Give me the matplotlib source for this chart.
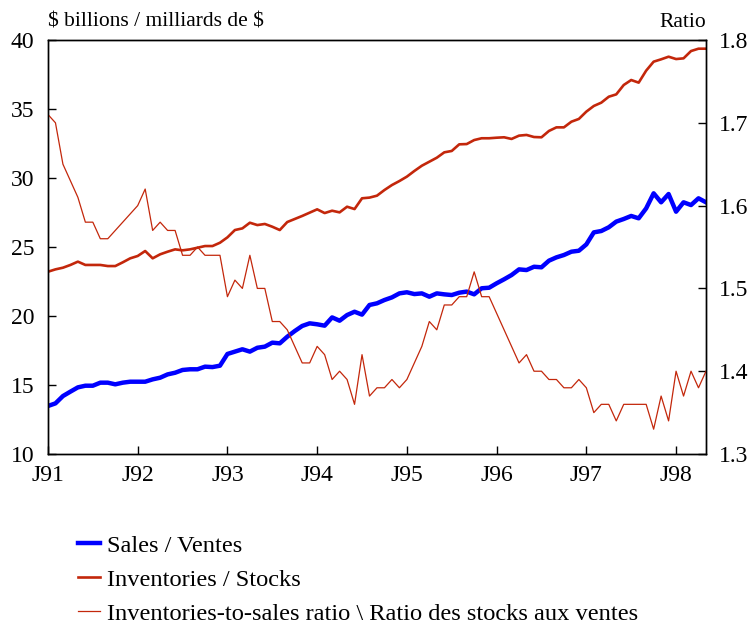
# Sales, inventories and inventories-to-sales ratio, monthly Jan 1991 - May 1998

import matplotlib
matplotlib.use("Agg")
import matplotlib.pyplot as plt
import numpy as np

# Monthly data, Jan 1991 onwards
sales = [13.48, 13.67, 14.20, 14.52, 14.83, 14.95, 14.95, 15.17, 15.17, 15.05, 15.17, 15.24,
         15.24, 15.24, 15.41, 15.53, 15.77, 15.89, 16.09, 16.14, 16.14, 16.33, 16.30, 16.40,
         17.25, 17.42, 17.59, 17.42, 17.70, 17.78, 18.07, 18.02, 18.50, 18.91, 19.28, 19.47,
         19.40, 19.30, 19.90, 19.66, 20.07, 20.31, 20.10, 20.80, 20.92, 21.16, 21.35, 21.64,
         21.72, 21.59, 21.64, 21.40, 21.64, 21.57, 21.52, 21.69, 21.77, 21.57, 22.01, 22.05,
         22.37, 22.66, 22.97, 23.38, 23.33, 23.57, 23.53, 24.01, 24.25, 24.42, 24.66, 24.73,
         25.19, 26.06, 26.16, 26.43, 26.84, 27.03, 27.25, 27.08, 27.80, 28.89, 28.24, 28.84,
         27.56, 28.24, 28.04, 28.53, 28.24]

inventories = [23.21, 23.38, 23.50, 23.70, 23.94, 23.70, 23.70, 23.70, 23.62, 23.62, 23.89, 24.18,
               24.35, 24.71, 24.18, 24.47, 24.66, 24.83, 24.76, 24.83, 24.95, 25.07, 25.07, 25.31,
               25.70, 26.23, 26.35, 26.76, 26.59, 26.67, 26.47, 26.23, 26.81, 27.03, 27.25, 27.49,
               27.73, 27.46, 27.63, 27.51, 27.92, 27.75, 28.53, 28.58, 28.72, 29.13, 29.49, 29.78,
               30.10, 30.51, 30.89, 31.18, 31.47, 31.86, 31.96, 32.44, 32.46, 32.75, 32.88, 32.88,
               32.92, 32.95, 32.83, 33.07, 33.12, 32.97, 32.95, 33.41, 33.67, 33.67, 34.08, 34.28,
               34.81, 35.22, 35.46, 35.89, 36.06, 36.74, 37.10, 36.91, 37.78, 38.43, 38.60, 38.79,
               38.62, 38.67, 39.20, 39.37, 39.37]

ratio = [1.71, 1.70, 1.65, 1.63, 1.61, 1.58, 1.58, 1.56, 1.56, 1.57, 1.58, 1.59,
         1.60, 1.62, 1.57, 1.58, 1.57, 1.57, 1.54, 1.54, 1.55, 1.54, 1.54, 1.54,
         1.49, 1.51, 1.50, 1.54, 1.50, 1.50, 1.46, 1.46, 1.45, 1.43, 1.41, 1.41,
         1.43, 1.42, 1.39, 1.40, 1.39, 1.36, 1.42, 1.37, 1.38, 1.38, 1.39, 1.38,
         1.39, 1.41, 1.43, 1.46, 1.45, 1.48, 1.48, 1.49, 1.49, 1.52, 1.49, 1.49,
         1.47, 1.45, 1.43, 1.41, 1.42, 1.40, 1.40, 1.39, 1.39, 1.38, 1.38, 1.39,
         1.38, 1.35, 1.36, 1.36, 1.34, 1.36, 1.36, 1.36, 1.36, 1.33, 1.37, 1.34,
         1.40, 1.37, 1.40, 1.38, 1.40]

year_labels = ['J91', 'J92', 'J93', 'J94', 'J95', 'J96', 'J97', 'J98']

months = np.arange(len(sales))

plt.rcParams['font.family'] = 'Liberation Serif'

blue = '#0000FF'
red = '#C3270B'
fs = 17

fig = plt.figure(figsize=(7.52, 6.24), dpi=100)
ax = fig.add_axes([0.0638, 0.2724, 0.875, 0.6635])
ax2 = ax.twinx()

l1, = ax.plot(months, sales, color=blue, lw=3.2)
l2, = ax.plot(months, inventories, color=red, lw=1.9)
l3, = ax2.plot(months, ratio, color=red, lw=0.9)

ax.set_xlim(0, len(months) - 1)
ax.set_ylim(10, 40)
ax2.set_ylim(1.3, 1.8)
ax.set_yticks(np.arange(10, 41, 5))
ax2.set_yticks([1.3, 1.4, 1.5, 1.6, 1.7, 1.8])
ax2.set_yticklabels(['1.3', '1.4', '1.5', '1.6', '1.7', '1.8'])
ax.set_xticks(np.arange(0, len(months), 12))
ax.set_xticklabels(year_labels)

ax.tick_params(axis='y', direction='in', length=6, width=1, labelsize=fs, pad=10)
ax2.tick_params(axis='y', direction='in', length=6, width=1, labelsize=fs, pad=9)
ax.tick_params(axis='x', direction='in', length=6, width=1, labelsize=fs, pad=8)
for a in (ax, ax2):
    for s in a.spines.values():
        s.set_linewidth(1.0)

fig.text(0.0638, 0.957, '\\$ billions / milliards de \\$', fontsize=15.5, ha='left', va='baseline')
fig.text(0.9388, 0.957, 'Ratio', fontsize=15.5, ha='right', va='baseline')

fig.legend([l1, l2, l3],
           ['Sales / Ventes', 'Inventories / Stocks',
            'Inventories-to-sales ratio \\ Ratio des stocks aux ventes'],
           loc='upper left', bbox_to_anchor=(0.1037, 0.143),
           bbox_transform=fig.transFigure, frameon=False, fontsize=17.6,
           handlelength=0.9, handletextpad=0.3, labelspacing=0.48,
           borderaxespad=0, borderpad=0)

fig.savefig('out.png', dpi=100)
